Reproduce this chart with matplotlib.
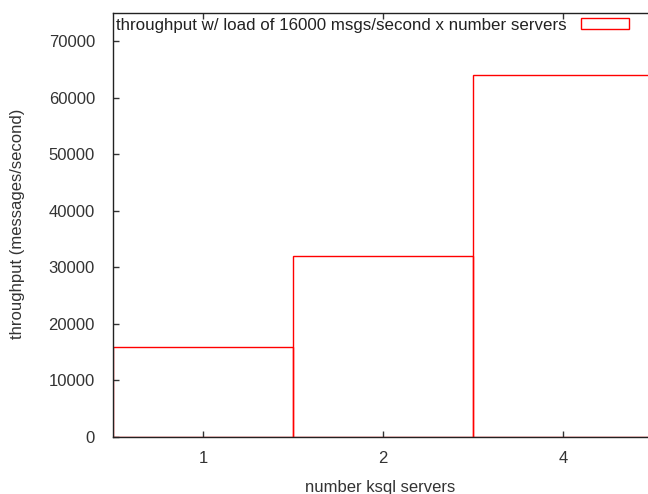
import matplotlib
matplotlib.use("Agg")
import matplotlib.pyplot as plt
from matplotlib.patches import Patch

servers = ["1", "2", "4"]
throughput = [16000, 32000, 64000]
yticks = [0, 10000, 20000, 30000, 40000, 50000, 60000, 70000]
series_label = "throughput w/ load of 16000 msgs/second x number servers"

FS = 12
plt.rcParams["font.family"] = ["Liberation Sans", "DejaVu Sans"]
plt.rcParams["font.size"] = FS

W, H = 648, 494
fig = plt.figure(figsize=(W / 100, H / 100), dpi=100)
left, right, top, bottom = 113, 653, 13, 437
ax = fig.add_axes([left / W, 1 - bottom / H, (right - left) / W, (bottom - top) / H])

pos = list(range(len(servers)))
ax.bar(pos, throughput, width=1.0, fill=False, edgecolor="#ff0000", linewidth=1.0,
       label=series_label)

ax.set_xlim(-0.5, len(servers) - 0.5)
ax.set_ylim(0, 75000)
ax.set_xticks(pos)
ax.set_xticklabels(servers)
ax.set_yticks(yticks)
ax.set_yticklabels([str(v) for v in yticks])
ax.tick_params(axis="both", direction="in", length=4, width=1, colors="#333333",
               labelcolor="#333333", labelsize=FS)
ax.tick_params(axis="x", top=True, pad=10)
ax.tick_params(axis="y", pad=13)
for s in ax.spines.values():
    s.set_linewidth(1.0)
    s.set_color("#222222")

fig.text(18 / W, 1 - 224 / H, "throughput (messages/second)", rotation=90,
         ha="center", va="center", color="#333333", fontsize=FS)
fig.text(380 / W, 1 - 487 / H, "number ksql servers", ha="center", va="center",
         color="#333333", fontsize=FS)

handle = Patch(facecolor="white", edgecolor="#ff0000", linewidth=1.0)
leg = fig.legend([handle], [series_label], loc="upper left",
                 bbox_to_anchor=(113 / W, 1 - 15 / H), bbox_transform=fig.transFigure,
                 frameon=False, markerfirst=False, handlelength=2.8, handleheight=0.54,
                 handletextpad=0.9, borderpad=0.15, borderaxespad=0, fontsize=12.2)
for t in leg.get_texts():
    t.set_color("#222222")

fig.savefig("out.png", dpi=100)
